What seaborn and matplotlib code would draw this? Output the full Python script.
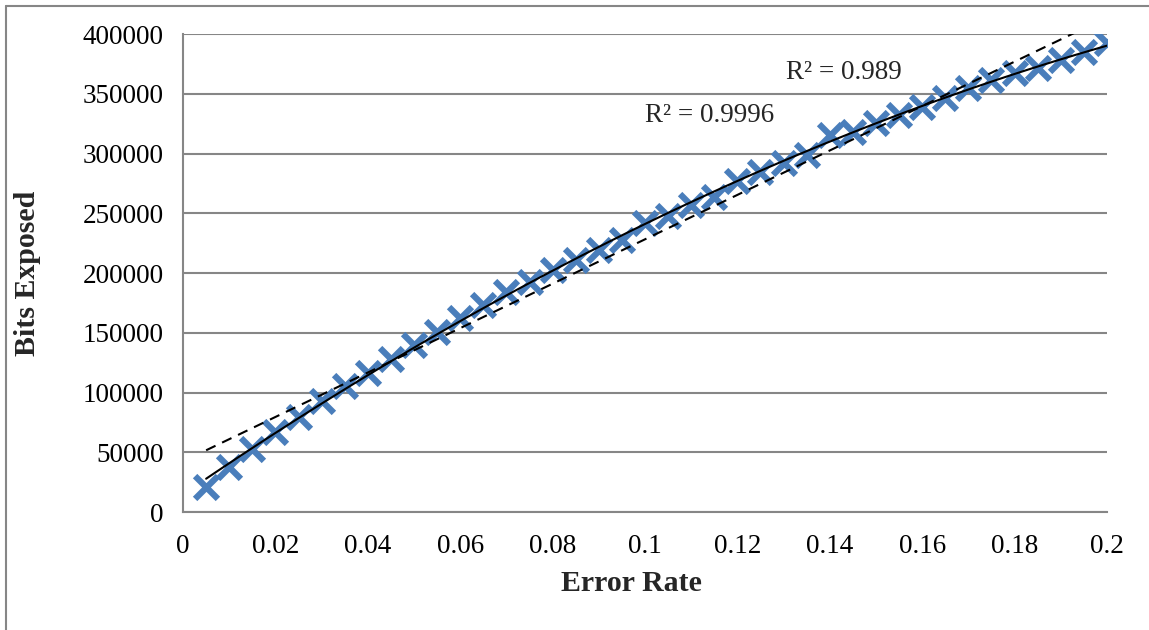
import numpy as np
import pandas as pd
import matplotlib
matplotlib.use("Agg")
import matplotlib.pyplot as plt
import seaborn as sns
from matplotlib.lines import Line2D

# values
error_rate = [0.005, 0.01, 0.015, 0.02, 0.025, 0.03, 0.035, 0.04, 0.045, 0.05,
              0.055, 0.06, 0.065, 0.07, 0.075, 0.08, 0.085, 0.09, 0.095, 0.1,
              0.105, 0.11, 0.115, 0.12, 0.125, 0.13, 0.135, 0.14, 0.145, 0.15,
              0.155, 0.16, 0.165, 0.17, 0.175, 0.18, 0.185, 0.19, 0.195, 0.2]
bits_exposed = [21200, 37900, 52500, 66700, 79700, 93100, 105400, 116600, 127800, 139700,
                150900, 162100, 173200, 184400, 192700, 202500, 210900, 219200, 227600, 241600,
                247700, 256900, 263900, 277300, 284800, 291800, 298700, 315500, 318200, 325200,
                332200, 339200, 346200, 354600, 361500, 367100, 371800, 378200, 385200, 392200]
r2_labels = ["R² = 0.9996", "R² = 0.989"]
x_ticks = [0, 0.02, 0.04, 0.06, 0.08, 0.1, 0.12, 0.14, 0.16, 0.18, 0.2]
x_tick_labels = ["0", "0.02", "0.04", "0.06", "0.08", "0.1", "0.12", "0.14", "0.16", "0.18", "0.2"]
y_ticks = [0, 50000, 100000, 150000, 200000, 250000, 300000, 350000, 400000]

df = pd.DataFrame({"Error Rate": error_rate, "Bits Exposed": bits_exposed})

sns.set_style("white")
plt.rcParams["font.family"] = ["Liberation Serif", "DejaVu Serif"]

gray = "#868686"
fig = plt.figure(figsize=(11.49, 6.3), dpi=100)
ax = fig.add_axes([0.1593, 0.1873, 0.8041, 0.7587])

# polynomial trend (solid) and linear trend (dashed)
sns.regplot(data=df, x="Error Rate", y="Bits Exposed", order=2, ci=None, scatter=False,
            ax=ax, line_kws={"color": "black", "linewidth": 1.5, "zorder": 4})
sns.regplot(data=df, x="Error Rate", y="Bits Exposed", order=1, ci=None, scatter=False,
            ax=ax, line_kws={"color": "black", "linewidth": 1.5, "linestyle": (0, (5, 3.5)), "zorder": 4})
sns.scatterplot(data=df, x="Error Rate", y="Bits Exposed", marker="x", s=270,
                linewidth=4.5, color="#4A7EBB", ax=ax, zorder=3)

ax.set_xlim(0, 0.2)
ax.set_ylim(0, 400000)
ax.set_xticks(x_ticks)
ax.set_xticklabels(x_tick_labels)
ax.set_yticks(y_ticks)
ax.set_yticklabels([str(v) for v in y_ticks])
ax.tick_params(axis="both", labelsize=19.5, colors=gray, labelcolor="black",
               length=6, width=1.5, direction="out")
ax.tick_params(axis="x", pad=10)
ax.tick_params(axis="y", pad=8)
ax.yaxis.grid(True, color=gray, linewidth=1.5)
ax.xaxis.grid(False)
ax.set_axisbelow(True)
for side in ["top", "right"]:
    ax.spines[side].set_visible(False)
for side in ["left", "bottom"]:
    ax.spines[side].set_color(gray)
    ax.spines[side].set_linewidth(1.5)

ax.set_xlabel("Error Rate", fontsize=21.5, fontweight="bold")
ax.set_ylabel("Bits Exposed", fontsize=21.5, fontweight="bold", labelpad=30)
ax.xaxis.set_label_coords((631 - 183) / 924, -(570 - 512) / 478)

ax.text(0.1, 332000, r2_labels[0], fontsize=19.5, va="center", ha="left")
ax.text(0.1305, 368000, r2_labels[1], fontsize=19.5, va="center", ha="left")

# outer chart border (left and top edges visible in reference)
fig.add_artist(Line2D([6 / 1149, 6 / 1149], [0, 1 - 6 / 630], transform=fig.transFigure,
                      color=gray, linewidth=1.5))
fig.add_artist(Line2D([6 / 1149, 1], [1 - 6 / 630, 1 - 6 / 630], transform=fig.transFigure,
                      color=gray, linewidth=1.5))

fig.savefig("out.png", dpi=100)
